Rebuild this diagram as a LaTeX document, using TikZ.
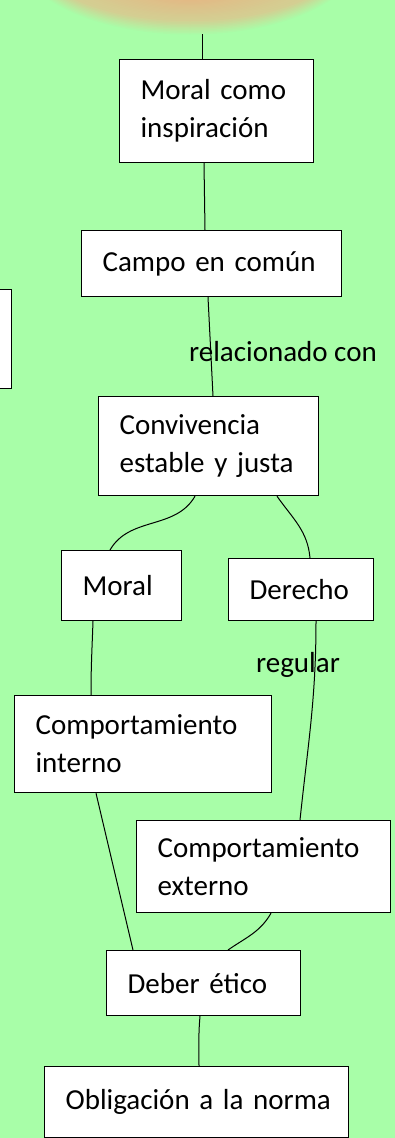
\documentclass[tikz,border=0pt]{standalone}
\usepackage{fontspec}
\setmainfont{Carlito}
\definecolor{fondo}{RGB}{168,254,168}
\definecolor{salmon}{RGB}{228,184,132}
\definecolor{caqui}{RGB}{212,206,146}
\tikzstyle{caja}=[draw,fill=white,line width=1.2pt,anchor=north west,align=left,inner xsep=21pt,inner ysep=0pt]
\tikzstyle{linea}=[line width=1pt]
\tikzstyle{every node}=[font=\fontsize{29}{38}\selectfont]

\begin{document}
\begin{tikzpicture}[x=1pt,y=1pt]
    \fill[fondo] (0,0) rectangle (395,-1138);
    \useasboundingbox (0,0) rectangle (395,-1138);
    % sol de arriba, borde difuso
    \foreach \i in {0,...,10}{
      \pgfmathtruncatemacro\p{\i*10}
      \fill[caqui!\p!fondo] (190,48) ellipse ({174-1.5*\i} and {84-1.5*\i});
    }
    \foreach \i in {0,...,20}{
      \pgfmathtruncatemacro\p{\i*5}
      \fill[salmon!\p!caqui] (190,48) ellipse ({158-5*\i} and {68-1.1*\i});
    }
    \coordinate (arriba) at (202,-34);
    % cajas
    \node[caja,text width=152pt,minimum height=103pt] (insp) at (119,-59) {Moral como\\inspiración};
    \node[caja,text width=218pt,minimum height=66pt] (campo) at (81,-230) {Campo en común};
    \node[draw,fill=white,line width=1.2pt,anchor=north east,minimum width=30pt,
      minimum height=99pt,inner sep=0pt] (izq) at (12,-289) {};
    \node[caja,text width=178pt,minimum height=99pt] (conv) at (98,-396) {Convivencia\\estable y justa};
    \node[caja,text width=78pt,minimum height=70pt] (moral) at (61,-550) {Moral};
    \node[caja,text width=103pt,minimum height=62pt] (der) at (228,-558) {Derecho};
    \node[caja,text width=215pt,minimum height=97pt] (cint) at (14,-695) {Comportamiento\\interno};
    \node[caja,text width=212pt,minimum height=92pt] (cext) at (136,-820) {Comportamiento\\externo};
    \node[caja,text width=152pt,minimum height=65pt] (deber) at (106,-950) {Deber ético};
    \node[caja,text width=262pt,minimum height=71pt] (oblig) at (44,-1066) {\mbox{Obligación a la norma}};
    % lineas
    \draw[linea] (arriba) -- ([xshift=83pt]insp.north west);
    \draw[linea] ([xshift=85pt]insp.south west) -- ([xshift=124pt]campo.north west);
    \draw[linea] ([xshift=127pt]campo.south west) -- ([xshift=115pt]conv.north west);
    \node (rel) at (283,-352) {relacionado con};
    \draw[linea] ([xshift=97pt]conv.south west) to[out=240,in=60] ([xshift=49pt]moral.north west);
    \draw[linea] ([xshift=179pt]conv.south west) to[out=-55,in=95] ([xshift=82pt]der.north west);
    \draw[linea] ([xshift=32pt]moral.south west) to[out=-92,in=90] ([xshift=77pt]cint.north west);
    \draw[linea] ([xshift=88pt]der.south west) to[out=-90,in=84] ([xshift=164pt]cext.north west);
    \node (reg) at (298,-665) {regular};
    \draw[linea] ([xshift=82pt]cint.south west) -- ([xshift=27pt]deber.north west);
    \draw[linea] ([xshift=135pt]cext.south west) to[out=240,in=35] ([xshift=122pt]deber.north west);
    \draw[linea] ([xshift=94pt]deber.south west) to[out=-95,in=90] ([xshift=155pt]oblig.north west);
\end{tikzpicture}
\end{document}
